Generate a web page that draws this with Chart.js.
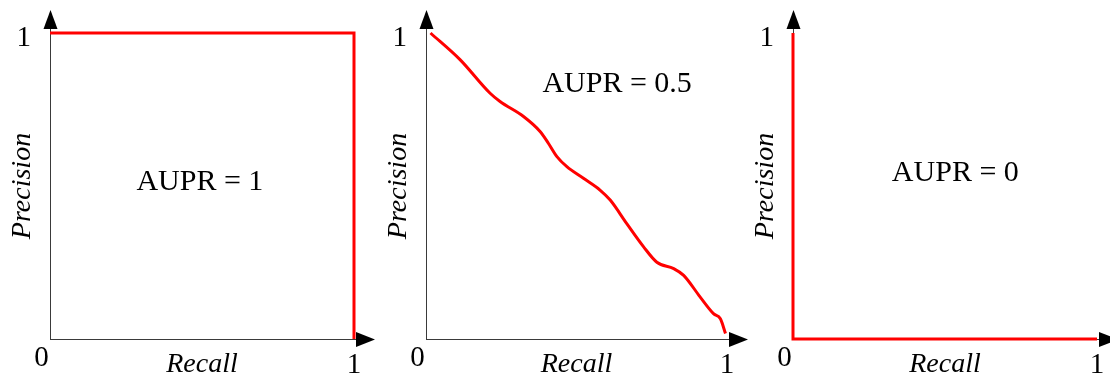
<!DOCTYPE html>
<html>
<head>
<meta charset="utf-8">
<script src="https://cdn.jsdelivr.net/npm/chart.js"></script>
<style>
  html, body { margin: 0; padding: 0; background: #ffffff; }
  #wrap { position: relative; width: 1110px; height: 379px; overflow: hidden; background: #ffffff; }
  #wrap canvas { position: absolute; left: 0; top: 0; }
</style>
</head>
<body>
<div id="wrap">
  <canvas id="c1" width="1110" height="379"></canvas>
  <canvas id="c2" width="1110" height="379"></canvas>
  <canvas id="c3" width="1110" height="379"></canvas>
</div>
<script>
// ---------- data ----------
const xTitle = 'Recall';
const yTitle = 'Precision';
const tickMin = 0;
const tickMax = 1;
const originLabel = '0';

// Panel 1: perfect classifier
const perfectRecall    = [0, 1, 1];
const perfectPrecision = [1, 1, 0];

// Panel 2: typical classifier
const midRecall    = [0.015, 0.113, 0.213, 0.246, 0.324, 0.379, 0.407, 0.435, 0.468, 0.523, 0.579, 0.612, 0.667, 0.723, 0.767, 0.823, 0.856, 0.911, 0.956, 0.978, 0.995];
const midPrecision = [1.000, 0.913, 0.803, 0.776, 0.727, 0.678, 0.639, 0.596, 0.563, 0.525, 0.486, 0.454, 0.377, 0.301, 0.251, 0.230, 0.208, 0.137, 0.082, 0.066, 0.018];

// Panel 3: worst classifier
const worstRecall    = [0, 0, 1];
const worstPrecision = [1, 0, 0];

const auprLabels = ['AUPR = 1', 'AUPR = 0.5', 'AUPR = 0'];

// ---------- layout / style (not data) ----------
const W = 1110, H = 379;
const SERIF = '"Liberation Serif", "Times New Roman", serif';
const AXIS_COLOR = '#3a3a3a';
const LINE_COLOR = '#ff0000';
const Y_AXIS_W = 45;
const X_AXIS_H = 40;
const panels = [
  { id: 'c1', left: 50,  right: 354,  xs: perfectRecall, ys: perfectPrecision, smooth: false, text: auprLabels[0], tx: 0.493, ty: 0.513 },
  { id: 'c2', left: 426, right: 727,  xs: midRecall,     ys: midPrecision,     smooth: true,  text: auprLabels[1], tx: 0.635, ty: 0.832 },
  { id: 'c3', left: 793, right: 1097, xs: worstRecall,   ys: worstPrecision,   smooth: false, text: auprLabels[2], tx: 0.534, ty: 0.542 }
];

const decor = {
  id: 'decor',
  beforeDatasetsDraw(chart) {
    const { ctx, scales: { x, y } } = chart;
    const x0 = Math.round(x.getPixelForValue(tickMin)) + 0.5;
    const y0 = Math.round(y.getPixelForValue(tickMin)) + 0.5;
    const x1 = x.getPixelForValue(tickMax);
    const y1 = y.getPixelForValue(tickMax);
    ctx.save();
    ctx.strokeStyle = AXIS_COLOR;
    ctx.lineWidth = 1;
    ctx.beginPath();
    ctx.moveTo(x0, y1 - 6); ctx.lineTo(x0, y1 + 1);
    ctx.moveTo(x1 - 1, y0); ctx.lineTo(x1 + 4, y0);
    ctx.stroke();
    ctx.restore();
  },
  afterDatasetsDraw(chart, args, opts) {
    const { ctx, scales: { x, y } } = chart;
    const x0 = Math.round(x.getPixelForValue(tickMin)) + 0.5;
    const y0 = Math.round(y.getPixelForValue(tickMin)) + 0.5;
    const x1 = x.getPixelForValue(tickMax);
    const y1 = y.getPixelForValue(tickMax);
    ctx.save();
    ctx.fillStyle = '#000000';
    // up arrow
    ctx.beginPath();
    ctx.moveTo(x0, y1 - 23);
    ctx.lineTo(x0 - 7, y1 - 4);
    ctx.lineTo(x0 + 7, y1 - 4);
    ctx.closePath();
    ctx.fill();
    // right arrow
    ctx.beginPath();
    ctx.moveTo(x1 + 21, y0);
    ctx.lineTo(x1 + 2, y0 - 7.5);
    ctx.lineTo(x1 + 2, y0 + 7.5);
    ctx.closePath();
    ctx.fill();
    // origin label
    ctx.font = '29px ' + SERIF;
    ctx.textAlign = 'center';
    ctx.textBaseline = 'middle';
    ctx.fillText(originLabel, x0 - 9, y0 + 18.5);
    // AUPR annotation
    ctx.font = '30px ' + SERIF;
    ctx.fillText(opts.text, x.getPixelForValue(opts.tx), y.getPixelForValue(opts.ty));
    ctx.restore();
  }
};

function makeChart(p) {
  const pts = p.xs.map((v, i) => ({ x: v, y: p.ys[i] }));
  return new Chart(document.getElementById(p.id), {
    type: 'line',
    data: {
      datasets: [{
        data: pts,
        borderColor: LINE_COLOR,
        borderWidth: 3,
        pointRadius: 0,
        fill: false,
        tension: 0,
        cubicInterpolationMode: p.smooth ? 'monotone' : 'default',
        borderJoinStyle: 'miter',
        borderCapStyle: 'butt',
        clip: false
      }]
    },
    options: {
      responsive: false,
      animation: false,
      events: [],
      layout: { padding: { left: p.left - Y_AXIS_W, right: W - p.right, top: 33, bottom: 0 } },
      plugins: {
        legend: { display: false },
        tooltip: { enabled: false },
        decor: { text: p.text, tx: p.tx, ty: p.ty }
      },
      scales: {
        x: {
          type: 'linear',
          min: tickMin, max: tickMax,
          afterBuildTicks: s => { s.ticks = [{ value: tickMax }]; },
          afterFit: s => { s.height = X_AXIS_H; },
          grid: { display: false },
          border: { display: true, color: AXIS_COLOR, width: 1 },
          ticks: { color: '#000', padding: 4, maxRotation: 0, font: { family: SERIF, size: 29, lineHeight: 1 } },
          title: { display: true, text: xTitle, color: '#000', padding: { top: 0, bottom: 0 },
                   font: { family: SERIF, size: 28, style: 'italic', lineHeight: 1 } }
        },
        y: {
          type: 'linear',
          min: tickMin, max: tickMax,
          afterBuildTicks: s => { s.ticks = [{ value: tickMax }]; },
          afterFit: s => { s.width = Y_AXIS_W; },
          grid: { display: false },
          border: { display: true, color: AXIS_COLOR, width: 1 },
          ticks: { color: '#000', padding: 11, labelOffset: 5, font: { family: SERIF, size: 29, lineHeight: 1 } },
          title: { display: true, text: yTitle, color: '#000', padding: { top: 4, bottom: 0 },
                   font: { family: SERIF, size: 28, style: 'italic', lineHeight: 1 } }
        }
      }
    },
    plugins: [decor]
  });
}

panels.forEach(makeChart);
</script>
</body>
</html>
